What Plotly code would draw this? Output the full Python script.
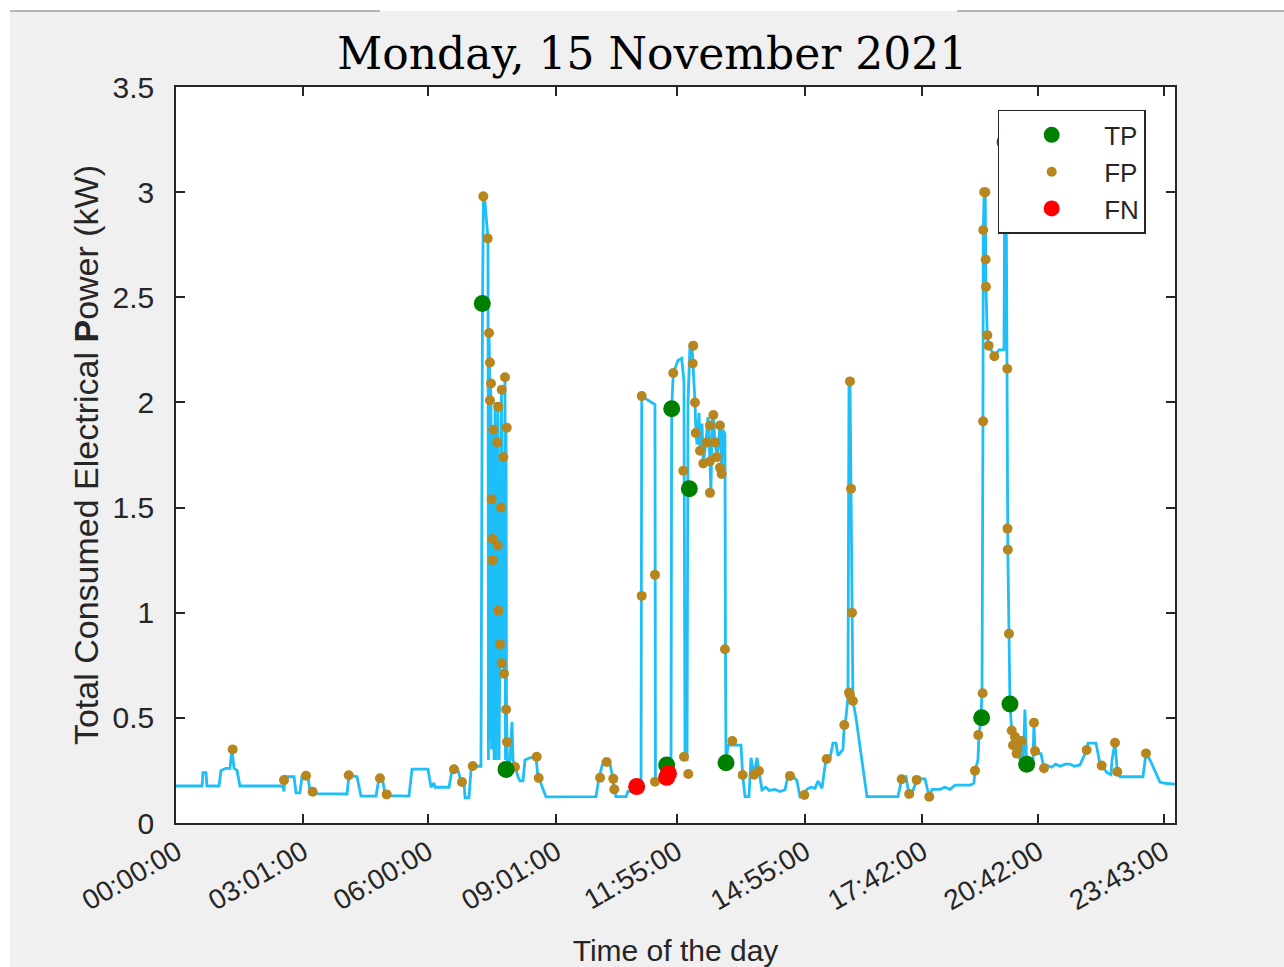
import plotly.graph_objects as go

# ---- data (x = time index of the day, y = kW) ----
x_tick_vals = [1, 183, 363, 548, 722, 907, 1076, 1243, 1424]
x_tick_text = ["00:00:00", "03:01:00", "06:00:00", "09:01:00", "11:55:00",
               "14:55:00", "17:42:00", "20:42:00", "23:43:00"]
y_tick_vals = [0, 0.5, 1, 1.5, 2, 2.5, 3, 3.5]
y_tick_text = ["0", "0.5", "1", "1.5", "2", "2.5", "3", "3.5"]

power_idx = [0, 37.5, 38.9, 43.2, 44.7, 62, 64.9, 72.1, 77.8, 80.7, 83.6, 87.9, 92.2,
             154.2, 155.7, 157.1, 170.1, 173, 178.7, 181.6, 187.4, 190.3, 193.1, 197.5,
             246.5, 249.4, 260.9, 266.7, 288.3, 292.6, 296.9, 301.3, 304.1, 335.8, 340.2,
             363.2, 367.6, 371.9, 373.3, 393.5, 397.8, 400.7, 406.5, 410.8, 415.1, 416.6,
             422.3, 425.2, 428.1, 439.6, 441.8, 443.2, 445.4, 448.3, 449.7, 450.4, 451.2,
             451.9, 452.6, 453.3, 454, 454.8, 455.5, 456.2, 456.9, 457.6, 458.4, 459.8,
             461.2, 462.7, 463.4, 464.1, 464.9, 465.6, 467, 468.5, 469.2, 469.9, 471.3,
             472.8, 474.2, 474.9, 475.7, 476.4, 477.1, 477.8, 481.4, 484.3, 485.8, 488.6,
             493, 495.8, 500.2, 503, 510.3, 518.9, 521.8, 524.7, 533.3, 605.4, 609.7,
             615.5, 621.2, 625.6, 629.9, 631.3, 634.2, 648.6, 651.5, 655.8, 663, 670.3,
             671.3, 690.4, 691.1, 697.6, 707.7, 713.5, 714.5, 716.8, 723.6, 728.9, 732.2,
             733.7, 736.6, 738, 740.9, 743.8, 745.2, 748.1, 749.5, 751, 753.9, 755.3,
             758.2, 760.1, 763.9, 766.8, 769.7, 771.1, 772.6, 774.5, 776.9, 779.8, 784.1,
             786.6, 788.4, 791.3, 792, 792.8, 795.7, 814.4, 816.8, 820.2, 825.9, 828.8,
             833.1, 837.5, 840.3, 844.7, 850, 855, 863.4, 870, 877.8, 882.1, 889.3, 895.1,
             899.4, 905.2, 909.5, 915, 921.1, 925.4, 931.1, 936.9, 942.7, 947, 951.3,
             954.2, 961.4, 963.3, 965.7, 968.6, 970.1, 971.5, 973, 974.4, 975.8, 980.2,
             996, 1040.7, 1046, 1052.2, 1056.5, 1060.9, 1067.6, 1073.8, 1079.6, 1083.9,
             1085.8, 1089.7, 1101.2, 1108.4, 1115.6, 1122.9, 1130, 1144.5, 1150.2, 1151.7,
             1156, 1157.4, 1160.3, 1161.8, 1163.2, 1163.6, 1165, 1166.5, 1167.1, 1167.5,
             1169.4, 1171.4, 1179.5, 1186.3, 1193.5, 1194.9, 1196.4, 1198.2, 1198.5, 1199,
             1200.7, 1202.1, 1204.6, 1206.5, 1209.3, 1211.8, 1214.1, 1216.5, 1219, 1221.3,
             1223.7, 1226.2, 1231, 1235.3, 1236.7, 1238.2, 1241, 1246.8, 1251.1, 1254,
             1262, 1268, 1274.2, 1282, 1288.6, 1295, 1303, 1312.7, 1314.6, 1326.1, 1331.9,
             1334.3, 1341.9, 1347.7, 1349.2, 1353.5, 1356.8, 1360.7, 1393.8, 1398.2,
             1403.9, 1418.3, 1425.5, 1440]
power_kw = [0.176, 0.176, 0.24, 0.24, 0.176, 0.176, 0.25, 0.26, 0.26, 0.35, 0.26, 0.25, 0.176,
            0.176, 0.15, 0.22, 0.22, 0.143, 0.143, 0.22, 0.225, 0.22, 0.15, 0.14,
            0.138, 0.227, 0.22, 0.128, 0.128, 0.213, 0.22, 0.14, 0.13, 0.128, 0.256,
            0.256, 0.17, 0.19, 0.17, 0.17, 0.25, 0.256, 0.25, 0.2, 0.195, 0.12,
            0.12, 0.25, 0.271, 0.27, 2.47, 2.99, 2.95, 2.85, 2.78, 0.3, 2.33,
            2.19, 0.4, 2.09, 2.01, 0.35, 1.54, 1.35, 1.25, 1.87, 0.3, 2.0,
            0.3, 1.32, 1.81, 1.98, 1.01, 0.3, 0.85, 1.5, 2.06, 0.76, 1.74,
            0.71, 2.12, 0.3, 1.88, 0.54, 0.385, 0.255, 0.3, 0.48, 0.3, 0.266,
            0.22, 0.2, 0.2, 0.3, 0.31, 0.315, 0.214, 0.2, 0.124, 0.125, 0.215,
            0.29, 0.29, 0.28, 0.21, 0.16, 0.125, 0.125, 0.15, 0.15, 0.173, 0.18,
            2.03, 1.99, 0.2, 0.2, 0.22, 0.25, 1.97, 2.14, 2.2, 2.21, 2.1,
            0.3, 0.3, 2.0, 2.27, 2.27, 2.185, 2.0, 1.855, 1.8, 1.95, 1.77,
            1.9, 1.71, 1.81, 1.93, 1.72, 1.57, 1.9, 1.94, 1.81, 1.74, 1.89,
            1.66, 1.87, 1.85, 0.826, 0.287, 0.37, 0.37, 0.228, 0.125, 0.125, 0.31,
            0.23, 0.31, 0.247, 0.157, 0.17, 0.155, 0.16, 0.15, 0.157, 0.224, 0.224, 0.2,
            0.125, 0.133, 0.16, 0.17, 0.165, 0.2, 0.165, 0.304, 0.31, 0.38, 0.38,
            0.32, 0.35, 0.466, 0.5, 0.6, 2.1, 2.1, 1.59, 1.0, 0.58, 0.5,
            0.125, 0.125, 0.208, 0.22, 0.138, 0.14, 0.205, 0.21, 0.21, 0.15,
            0.125, 0.16, 0.16, 0.17, 0.16, 0.18, 0.18, 0.18, 0.19, 0.249,
            0.3, 0.418, 0.5, 0.617, 1.91, 2.82, 3.0, 3.0, 2.68, 2.55,
            2.32, 2.27, 2.22, 2.25, 2.25, 3.24, 3.2, 2.16, 1.40, 1.30,
            0.90, 0.566, 0.44, 0.35, 0.41, 0.33, 0.38, 0.3, 0.39, 0.3,
            0.54, 0.279, 0.29, 0.3, 0.477, 0.342, 0.33, 0.33, 0.26, 0.276,
            0.265, 0.28, 0.27, 0.28, 0.28, 0.27, 0.276, 0.347, 0.38, 0.38, 0.28,
            0.273, 0.24, 0.23, 0.3, 0.382, 0.244, 0.22, 0.22, 0.331,
            0.3, 0.195, 0.189, 0.185]

tp_idx = [441.5, 475.7, 714.5, 707.3, 739.9, 792.8, 1161.3, 1202.1, 1226.2, 1195.0]
tp_kw = [2.47, 0.255, 1.97, 0.276, 1.59, 0.287, 0.50, 0.566, 0.279, 3.24]

fp_idx = [81.7, 155.7, 187.4, 197.0, 249.0, 294.0, 303.7, 400.7, 412.2, 427.7,
          443.0, 449.3, 451.2, 452.6, 474.2, 454.0, 469.5, 452.6, 464.6, 457.4,
          476.7, 463.1, 471.8, 455.0, 468.5, 456.5, 463.7, 456.5, 464.6, 467.0,
          469.5, 472.8, 475.7, 477.1, 488.6, 519.9, 522.8,
          611.2, 620.8, 630.3, 631.8, 671.3, 671.3, 690.4, 690.4, 716.8, 731.2,
          732.2, 738.4, 745.6, 744.8, 748.1, 749.1, 774.5, 784.1, 769.7, 776.9,
          765.0, 755.3, 779.4, 760.1, 769.7, 784.1, 786.6, 769.7, 791.3, 801.9,
          816.8, 833.1, 840.3, 885.0, 905.6, 937.9, 963.3, 970.1, 971.5, 975.8,
          971.5, 973.0, 974.4, 1046.0, 1056.9, 1067.6, 1085.8,
          1151.7, 1156.4, 1162.7, 1163.4, 1165.0, 1166.5, 1163.6, 1167.1, 1167.5,
          1169.4, 1171.4, 1179.5, 1198.2, 1198.5, 1199.0, 1200.7, 1204.6, 1209.3,
          1214.1, 1206.5, 1211.8, 1219.0, 1213.0, 1236.7, 1238.2, 1251.1, 1312.7,
          1334.3, 1353.5, 1356.8, 1398.2]
fp_kw = [0.35, 0.204, 0.225, 0.149, 0.227, 0.213, 0.136, 0.256, 0.195, 0.271,
         2.98, 2.78, 2.33, 2.19, 2.12, 2.09, 2.06, 2.01, 1.98, 1.87,
         1.88, 1.81, 1.74, 1.54, 1.50, 1.35, 1.32, 1.25, 1.01, 0.85,
         0.76, 0.71, 0.54, 0.385, 0.266, 0.315, 0.214,
         0.215, 0.29, 0.21, 0.16, 2.03, 1.08, 1.18, 0.196, 2.14, 1.675,
         0.315, 0.233, 2.27, 2.185, 2.0, 1.855, 1.94, 1.89, 1.89, 1.81,
         1.81, 1.77, 1.74, 1.71, 1.72, 1.69, 1.66, 1.57, 0.826, 0.39,
         0.228, 0.23, 0.247, 0.224, 0.133, 0.304, 0.466, 0.62, 0.61, 0.58,
         2.10, 1.59, 1.0, 0.208, 0.138, 0.205, 0.125,
         0.249, 0.418, 0.617, 1.91, 3.0, 3.0, 2.82, 2.68, 2.55,
         2.32, 2.27, 2.22, 2.16, 1.40, 1.30, 0.90, 0.44, 0.41,
         0.38, 0.37, 0.33, 0.39, 0.35, 0.477, 0.342, 0.26, 0.347,
         0.273, 0.382, 0.244, 0.331]

fn_idx = [664.0, 707.3, 709.9]
fn_kw = [0.173, 0.217, 0.235]

# ---- figure ----
DARK = "#262626"
SANS = "Liberation Sans, Arial, sans-serif"

fig = go.Figure()
fig.add_trace(go.Scatter(x=power_idx, y=power_kw, mode="lines",
                         line=dict(color="#1EBEF8", width=2.8),
                         showlegend=False, hoverinfo="skip"))
fig.add_trace(go.Scatter(x=fp_idx, y=fp_kw, mode="markers", name="FP", legendrank=2,
                         marker=dict(color="#B8861E", size=10, line=dict(width=0))))
fig.add_trace(go.Scatter(x=tp_idx, y=tp_kw, mode="markers", name="TP", legendrank=1,
                         marker=dict(color="#008000", size=17, line=dict(width=0))))
fig.add_trace(go.Scatter(x=fn_idx, y=fn_kw, mode="markers", name="FN", legendrank=3,
                         marker=dict(color="#FF0000", size=17, line=dict(width=0))))

fig.update_layout(
    width=1284, height=967,
    margin=dict(l=176, r=109, t=87, b=144, autoexpand=False),
    paper_bgcolor="#f0f0f0", plot_bgcolor="white",
    title=dict(text="Monday, 15 November 2021",
               font=dict(family="DejaVu Serif", size=44, color="black"),
               x=0.508, xanchor="center", y=0.945, yanchor="middle"),
    legend=dict(x=0.8225, y=0.9688, xanchor="left", yanchor="top",
                bgcolor="white", bordercolor=DARK, borderwidth=1.5,
                font=dict(family=SANS, size=26, color=DARK),
                itemwidth=95, traceorder="normal"),
    shapes=[
        dict(type="rect", xref="paper", yref="paper", x0=-0.1762, x1=-0.1662,
             y0=-0.2, y1=1.12, fillcolor="white", line=dict(width=0), layer="below"),
        dict(type="rect", xref="paper", yref="paper", x0=-0.18, x1=1.12,
             y0=1.1033, y1=1.12, fillcolor="white", line=dict(width=0), layer="below"),
        dict(type="line", xref="paper", yref="paper", x0=-0.1662, x1=0.2042,
             y0=1.1033, y1=1.1033, line=dict(color="#a0a0a0", width=1.5)),
        dict(type="line", xref="paper", yref="paper", x0=0.7818, x1=1.12,
             y0=1.1033, y1=1.1033, line=dict(color="#a0a0a0", width=1.5)),
    ],
)

fig.update_xaxes(range=[0, 1440], tickvals=x_tick_vals, ticktext=x_tick_text,
                 ticks="inside", ticklen=9, tickwidth=1.5, tickcolor=DARK,
                 showline=True, linecolor=DARK, linewidth=1.5, mirror="ticks",
                 showgrid=False, zeroline=False, tickangle=-30, automargin=False,
                 tickfont=dict(family=SANS, size=28, color=DARK),
                 title=dict(text="Time of the day", standoff=36,
                            font=dict(family=SANS, size=30, color=DARK)))
fig.update_yaxes(range=[0, 3.5], tickvals=y_tick_vals, ticktext=y_tick_text,
                 ticks="inside", ticklen=9, tickwidth=1.5, tickcolor=DARK,
                 showline=True, linecolor=DARK, linewidth=1.5, mirror="ticks",
                 showgrid=False, zeroline=False, automargin=False,
                 ticklabelstandoff=14,
                 tickfont=dict(family=SANS, size=30, color=DARK),
                 title=dict(text="Total Consumed Electrical <b>P</b>ower (kW)", standoff=4,
                            font=dict(family=SANS, size=34, color=DARK)))

fig.write_html("out.html", config={"displayModeBar": False},
               post_script="document.body.style.margin='0';")
